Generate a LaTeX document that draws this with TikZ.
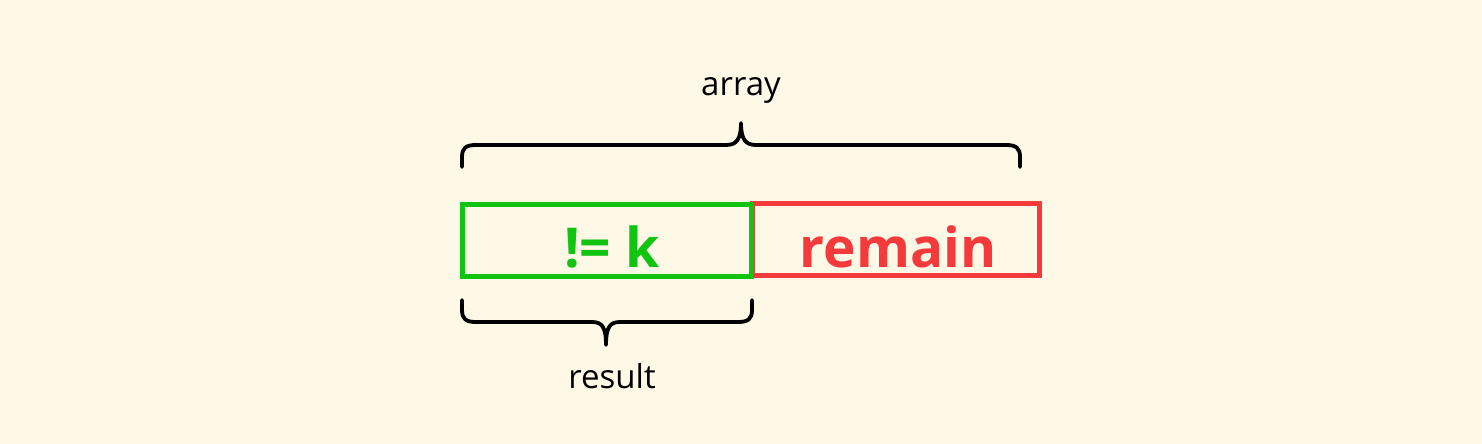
\documentclass[tikz,border=0pt]{standalone}
\usepackage{fontspec}
\setmainfont{Open Sans}
\definecolor{bg}{RGB}{254,248,231}
\definecolor{grn}{RGB}{18,196,18}
\definecolor{rd}{RGB}{244,58,58}
\begin{document}
\begin{tikzpicture}[x=1pt,y=-1pt]
\tikzset{
  cell/.style={line width=5pt, inner sep=0pt, outer sep=0pt, minimum width=289pt, minimum height=72pt, anchor=north west},
  brace/.style={line width=3.8pt, line cap=round, line join=round, black},
  bigtxt/.style={font=\fontsize{55}{60}\selectfont\bfseries, anchor=base, inner sep=0pt},
  lbl/.style={font=\fontsize{33}{38}\selectfont, anchor=base, inner sep=0pt}
}
\fill[bg] (0,0) rectangle (1482,444);
\useasboundingbox (0,0) rectangle (1482,444);
\node[cell, draw=rd, minimum width=287pt] (r) at (752,203) {};
\node[cell, draw=grn] (g) at (462.5,204) {};
\node[bigtxt, text=grn] (gt) at (612,267) {!= k};
\node[bigtxt, text=rd] (rt) at (898,267) {remain};
\node[lbl] (arr) at (741,95) {array};
\node[lbl] (res) at (612,388) {result};
% top brace
\draw[brace] (462,167) -- (462,157) .. controls (462,148) and (466,145) .. (476,145) -- (726,145) .. controls (736,145) and (741,140) .. (741,123)
  .. controls (741,140) and (746,145) .. (756,145) -- (1006,145) .. controls (1016,145) and (1020,148) .. (1020,157) -- (1020,167);
% bottom brace
\draw[brace] (462,300) -- (462,310) .. controls (462,319) and (466,322) .. (476,322) -- (592,322) .. controls (602,322) and (606,327) .. (606,345)
  .. controls (606,327) and (610,322) .. (620,322) -- (738,322) .. controls (748,322) and (752,319) .. (752,310) -- (752,300);
\end{tikzpicture}
\end{document}
